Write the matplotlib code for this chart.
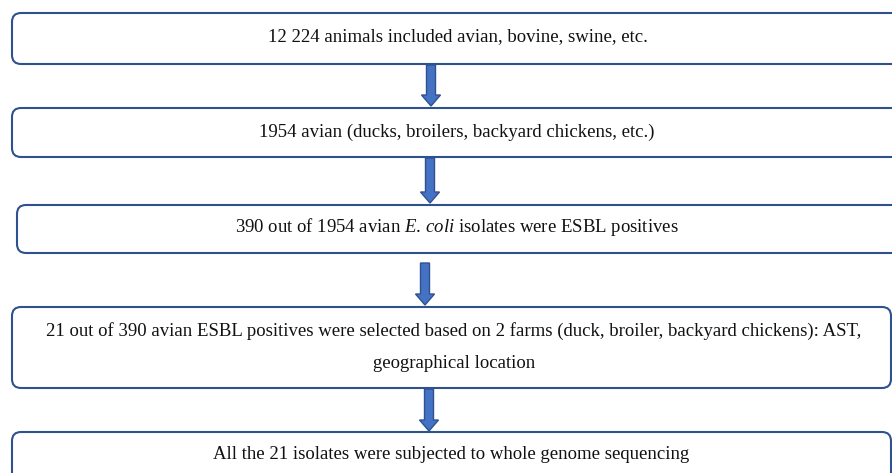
import matplotlib.pyplot as plt
from matplotlib.patches import FancyBboxPatch, FancyArrow

plt.rcParams["font.family"] = "Liberation Serif"
plt.rcParams["mathtext.fontset"] = "custom"
plt.rcParams["mathtext.rm"] = "Liberation Serif"
plt.rcParams["mathtext.it"] = "Liberation Serif:italic"

# flowchart steps (text only)
steps = [
    "12 224 animals included avian, bovine, swine, etc.",
    "1954 avian (ducks, broilers, backyard chickens, etc.)",
    r"390 out of 1954 avian $\mathit{E.\!\ coli}$ isolates were ESBL positives",
    "21 out of 390 avian ESBL positives were selected based on 2 farms (duck, broiler, backyard chickens): AST,\ngeographical location",
    "All the 21 isolates were subjected to whole genome sequencing",
]

# box layout in pixel units: left, top, right, bottom
boxes = [
    (12, 13, 905, 64),
    (12, 108, 905, 157),
    (17, 205, 905, 253),
    (12, 307, 891, 388),
    (12, 432, 891, 490),
]
text_y = [37, 132, 227, 347, 454]
text_x = [458, 457, 457, 454, 451]
arrows = [(431, 65, 106), (430, 158, 203), (425, 263, 305), (429, 389, 431)]

edge_col = "#2F528F"
arrow_col = "#4472C4"

fig = plt.figure(figsize=(8.92, 4.73), dpi=100)
ax = fig.add_axes([0, 0, 1, 1])
ax.set_xlim(0, 892)
ax.set_ylim(473, 0)
ax.axis("off")

for (l, t, r, b), label, tx, ty in zip(boxes, steps, text_x, text_y):
    patch = FancyBboxPatch((l, t), r - l, b - t,
                           boxstyle="round,pad=0,rounding_size=9",
                           fc="white", ec=edge_col, lw=1.5)
    ax.add_patch(patch)
    ax.text(tx, ty, label, ha="center", va="center", fontsize=13.5,
            color="#111111", linespacing=2.2)

for x, y0, y1 in arrows:
    ax.add_patch(FancyArrow(x, y0, 0, y1 - y0, width=9, head_width=19,
                            head_length=11, length_includes_head=True,
                            fc=arrow_col, ec=edge_col, lw=1.0))

fig.savefig("out.png", dpi=100)
